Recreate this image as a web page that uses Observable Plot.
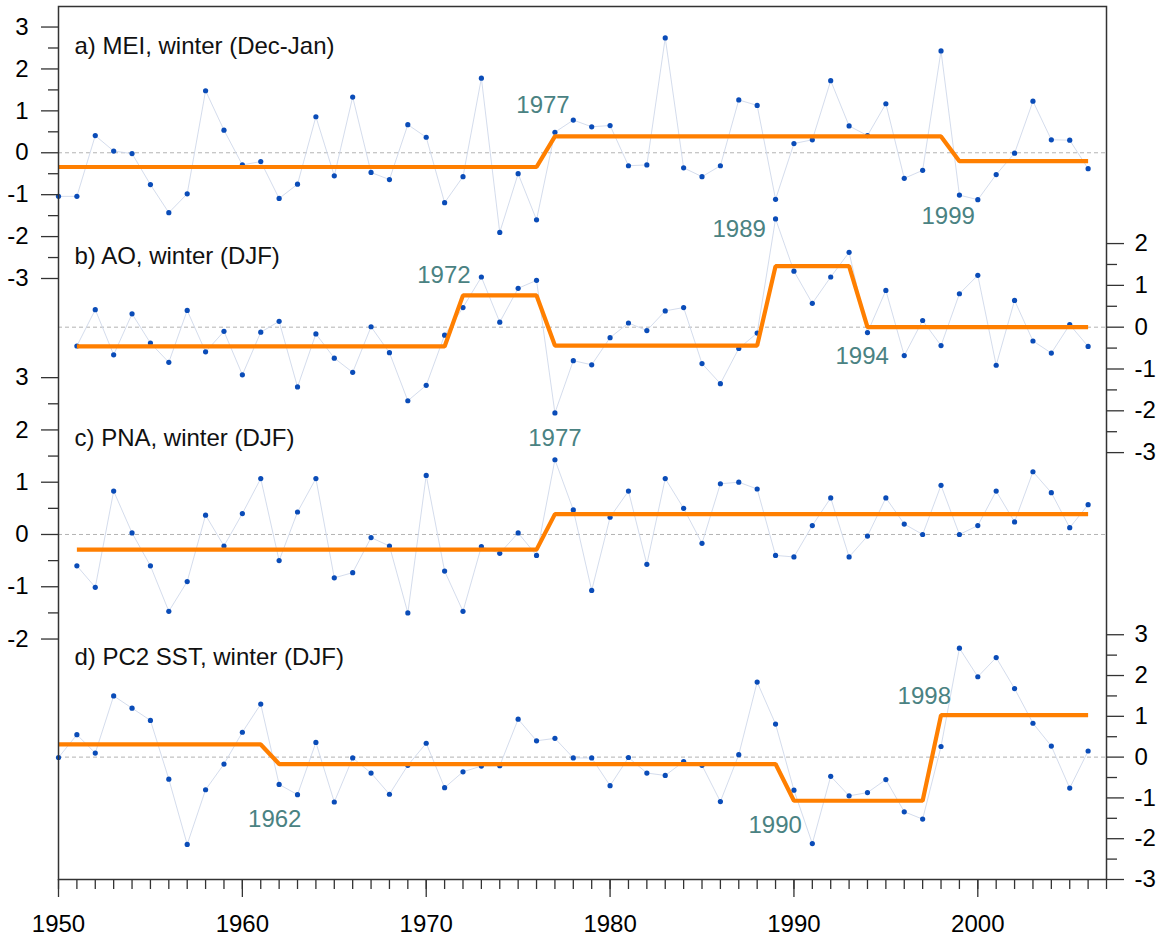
<!DOCTYPE html>
<html>
<head>
<meta charset="utf-8">
<script src="https://cdn.jsdelivr.net/npm/d3@7"></script>
<script src="https://cdn.jsdelivr.net/npm/@observablehq/plot@0.6"></script>
<style>
  body { margin: 0; background: #fff; }
  #chart { position: relative; width: 1159px; height: 936px; font-family: "Liberation Sans", Arial, sans-serif; }
  #chart svg { position: absolute; left: 0; top: 0; }
</style>
</head>
<body>
<div id="chart"></div>
<script>
// ---------------- data ----------------
const meiStart = 1950;
const mei = [-1.04, -1.04, 0.41, 0.04, -0.02, -0.76, -1.43, -0.98, 1.48, 0.54,
  -0.29, -0.21, -1.09, -0.75, 0.86, -0.55, 1.33, -0.47, -0.64, 0.67,
  0.37, -1.19, -0.57, 1.78, -1.90, -0.50, -1.60, 0.49, 0.78, 0.62,
  0.65, -0.31, -0.29, 2.74, -0.36, -0.57, -0.31, 1.26, 1.13, -1.11,
  0.22, 0.31, 1.72, 0.64, 0.41, 1.17, -0.61, -0.42, 2.43, -1.01,
  -1.12, -0.52, -0.01, 1.23, 0.31, 0.30, -0.38];
const meiShiftYears = [1950, 1977, 1999];
const meiShiftMeans = [-0.34, 0.39, -0.20];

const aoStart = 1951;
const ao = [-0.45, 0.42, -0.66, 0.32, -0.38, -0.84, 0.40, -0.59, -0.10,
  -1.14, -0.12, 0.14, -1.43, -0.16, -0.74, -1.08, 0.01, -0.61, -1.76,
  -1.39, -0.19, 0.47, 1.20, 0.12, 0.93, 1.12, -2.05, -0.80, -0.90,
  -0.25, 0.10, -0.08, 0.39, 0.47, -0.87, -1.35, -0.51, -0.14, 2.59,
  1.34, 0.57, 1.20, 1.79, -0.13, 0.88, -0.68, 0.16, -0.44, 0.80,
  1.24, -0.91, 0.64, -0.33, -0.62, 0.06, -0.46];
const aoShiftYears = [1951, 1972, 1977, 1989, 1994];
const aoShiftMeans = [-0.46, 0.76, -0.44, 1.46, 0.00];

const pnaStart = 1951;
const pna = [-0.60, -1.01, 0.83, 0.03, -0.60, -1.47, -0.90, 0.37, -0.22,
  0.40, 1.07, -0.50, 0.43, 1.07, -0.83, -0.73, -0.06, -0.22, -1.50,
  1.13, -0.70, -1.47, -0.23, -0.36, 0.03, -0.40, 1.43, 0.47, -1.07,
  0.33, 0.83, -0.57, 1.07, 0.50, -0.17, 0.97, 1.00, 0.87, -0.40,
  -0.43, 0.17, 0.70, -0.43, -0.03, 0.70, 0.20, 0.00, 0.94, 0.00,
  0.17, 0.83, 0.24, 1.20, 0.80, 0.13, 0.57];
const pnaShiftYears = [1951, 1977];
const pnaShiftMeans = [-0.29, 0.39];

const pc2Start = 1950;
const pc2 = [-0.01, 0.55, 0.10, 1.50, 1.20, 0.90, -0.54, -2.14, -0.80, -0.17,
  0.61, 1.30, -0.67, -0.92, 0.36, -1.10, -0.02, -0.39, -0.91, -0.20,
  0.34, -0.75, -0.36, -0.22, -0.21, 0.93, 0.40, 0.46, -0.02, -0.02,
  -0.70, -0.01, -0.39, -0.45, -0.11, -0.20, -1.09, 0.06, 1.84, 0.81,
  -0.81, -2.12, -0.47, -0.95, -0.87, -0.55, -1.34, -1.52, 0.26, 2.67,
  1.97, 2.44, 1.68, 0.83, 0.27, -0.76, 0.15];
const pc2ShiftYears = [1950, 1962, 1990, 1998];
const pc2ShiftMeans = [0.31, -0.17, -1.07, 1.03];

const panelTitles = ["a) MEI, winter (Dec-Jan)", "b) AO, winter (DJF)", "c) PNA, winter (DJF)", "d) PC2 SST, winter (DJF)"];
const meiLabels = ["1977", "1999"];
const aoLabels = ["1972", "1989", "1994"];
const pnaLabels = ["1977"];
const pc2Labels = ["1962", "1990", "1998"];

const ticksA = [3, 2, 1, 0, -1, -2, -3];
const minorA = [2.5, 1.5, 0.5, -0.5, -1.5, -2.5];
const ticksB = [2, 1, 0, -1, -2, -3];
const minorB = [1.5, 0.5, -0.5, -1.5, -2.5];
const ticksC = [3, 2, 1, 0, -1, -2];
const minorC = [2.5, 1.5, 0.5, -0.5, -1.5];
const ticksD = [3, 2, 1, 0, -1, -2, -3];
const minorD = [2.5, 1.5, 0.5, -0.5, -1.5, -2.5];
const yearTicks = [1950, 1960, 1970, 1980, 1990, 2000];
const yearMinor = d3.range(1950, 2008);

// ---------------- layout ----------------
const W = 1159, H = 936;
const M = {left: 58, right: 53, top: 6, bottom: 57};
const xDomain = [1950, 2007];
const FONT = "'Liberation Sans', Arial, Helvetica, sans-serif";

const panels = [
  {title: panelTitles[0], start: meiStart, values: mei, shiftYears: meiShiftYears, shiftMeans: meiShiftMeans,
   yDomain: [-17.34, 3.49], side: "left", ticks: ticksA, minor: ticksA.length ? minorA : [], titleY: 2.35,
   labels: meiLabels, labelAt: [[1976.35, 0.96], [1998.39, -1.71]]},
  {title: panelTitles[1], start: aoStart, values: ao, shiftYears: aoShiftYears, shiftMeans: aoShiftMeans,
   yDomain: [-13.21, 7.67], side: "right", ticks: ticksB, minor: minorB, titleY: 1.50,
   labels: aoLabels, labelAt: [[1970.96, 1.05], [1987.02, 2.15], [1993.71, -0.87]]},
  {title: panelTitles[2], start: pnaStart, values: pna, shiftYears: pnaShiftYears, shiftMeans: pnaShiftMeans,
   yDomain: [-6.60, 10.10], side: "left", ticks: ticksC, minor: minorC, titleY: 1.70,
   labels: pnaLabels, labelAt: [[1977.0, 1.70]]},
  {title: panelTitles[3], start: pc2Start, values: pc2, shiftYears: pc2ShiftYears, shiftMeans: pc2ShiftMeans,
   yDomain: [-3.0, 18.40], side: "right", ticks: ticksD, minor: minorD, titleY: 2.27,
   labels: pc2Labels, labelAt: [[1961.76, -1.72], [1988.98, -1.85], [1997.09, 1.29]]}
];

function regimeOf(p, year) {
  let lvl = null;
  p.shiftYears.forEach((s, k) => { if (year >= s) lvl = p.shiftMeans[k]; });
  return lvl;
}

function makePanel(p, isBottom) {
  const data = p.values.map((v, i) => ({year: p.start + i, value: v}));
  const regime = data.map(d => ({year: d.year, value: regimeOf(p, d.year)}));
  const labelData = p.labels.map((t, i) => ({text: t, x: p.labelAt[i][0], y: p.labelAt[i][1]}));
  const right = p.side === "right";
  const marks = [
    Plot.ruleY([0], {stroke: "#b3b3b3", strokeWidth: 1, strokeDasharray: "4,3"}),
    Plot.line(data, {x: "year", y: "value", stroke: "#cfd8ea", strokeWidth: 0.9}),
    Plot.dot(data, {x: "year", y: "value", r: 2.6, fill: "#0a4cb8", stroke: "none"}),
    Plot.line(regime, {x: "year", y: "value", stroke: "#ff7f00", strokeWidth: 4.2,
      strokeLinecap: "butt", strokeLinejoin: "miter"}),
    Plot.text(labelData, {x: "x", y: "y", text: "text", fill: "#4a8282", fontSize: 24,
      textAnchor: "middle", lineAnchor: "bottom"}),
    Plot.text([p.title], {x: () => 1950, y: () => p.titleY, text: d => d, dx: 16, fill: "#111",
      fontSize: 24, textAnchor: "start", lineAnchor: "bottom"}),
    Plot.axisY(p.minor, {anchor: right ? "right" : "left", tickSize: 10, tickFormat: () => "",
      stroke: "#333", strokeWidth: 1.3, label: null}),
    Plot.axisY(p.ticks, {anchor: right ? "right" : "left", tickSize: 17, tickPadding: right ? 11 : 13,
      tickFormat: d => String(d), stroke: "#333", strokeWidth: 1.3, fill: "#000", fontSize: 24, label: null})
  ];
  if (isBottom) {
    marks.push(
      Plot.axisX(yearMinor, {anchor: "bottom", tickSize: 10, tickFormat: () => "", stroke: "#333", strokeWidth: 1.3, label: null}),
      Plot.axisX(yearTicks, {anchor: "bottom", tickSize: 18, tickPadding: 17, tickFormat: d => String(d),
        stroke: "#333", strokeWidth: 1.3, fill: "#000", fontSize: 24, label: null}),
      Plot.frame({stroke: "#333", strokeWidth: 1.5})
    );
  }
  return Plot.plot({
    width: W, height: H,
    marginLeft: M.left, marginRight: M.right, marginTop: M.top, marginBottom: M.bottom,
    x: {domain: xDomain, label: null, axis: isBottom ? undefined : null},
    y: {domain: p.yDomain, label: null},
    style: {fontFamily: FONT, fontSize: "24px", background: "transparent", overflow: "visible", color: "#000"},
    marks
  });
}

const chart = document.getElementById("chart");
panels.forEach((p, i) => chart.appendChild(makePanel(p, i === panels.length - 1)));
</script>
</body>
</html>
